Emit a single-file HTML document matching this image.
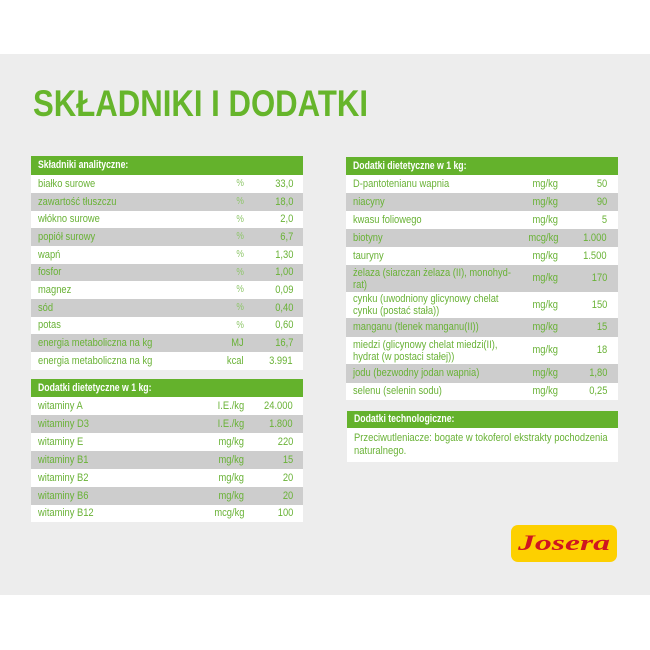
<!DOCTYPE html>
<html><head><meta charset="utf-8">
<style>
*{margin:0;padding:0;box-sizing:border-box}
html,body{width:650px;height:650px;background:#fff;overflow:hidden}
body{position:relative;font-family:"Liberation Sans",sans-serif}
#bg{position:absolute;left:0;top:54px;width:650px;height:541px;background:#ededed}
.tbl{position:absolute;width:272px}
.hd{background:#64b22c;color:#fff;font-weight:bold;font-size:11px;position:relative}
.hd span{position:absolute;left:7px;top:0;display:inline-block;transform:scaleX(.79);transform-origin:left center;white-space:nowrap}
.row{position:relative;font-size:11px;color:#69b236;white-space:nowrap}
.w{background:#fff}
.g{background:#cdcdcd}
.lb{position:absolute;left:7px;display:inline-block;transform:scaleX(.85);transform-origin:left center}
.un{position:absolute;display:inline-block;transform:scaleX(.85);transform-origin:right center;text-align:right}
.vl{position:absolute;display:inline-block;transform:scaleX(.85);transform-origin:right center;text-align:right}
.L .un{right:59px}.L .vl{right:10px}
.R .un{right:60px}.R .vl{right:11px}
.pc{color:#8ec66a;font-size:10px}
</style></head><body>
<div id="bg"></div>

<svg style="position:absolute;left:0;top:0" width="650" height="650">
<text x="33" y="116" textLength="335" lengthAdjust="spacingAndGlyphs" font-family="Liberation Sans, sans-serif" font-weight="bold" font-size="37.5" fill="#66b52b">SKŁADNIKI I DODATKI</text>
<rect x="511" y="525" width="106" height="37" rx="7" ry="7" fill="#fdd000"/>
<text x="518" y="550" textLength="92" lengthAdjust="spacingAndGlyphs" font-family="Liberation Serif, serif" font-style="italic" font-weight="bold" font-size="22" fill="#cf1620">Josera</text>
</svg>

<!-- Left table 1 -->
<div class="tbl L" style="left:31px;top:156px">
<div class="hd" style="height:19px;line-height:19px"><span>Składniki analityczne:</span></div>
<div class="row w" style="height:18px;line-height:18px"><span class="lb">białko surowe</span><span class="un pc">%</span><span class="vl">33,0</span></div>
<div class="row g" style="height:18px;line-height:18px"><span class="lb">zawartość tłuszczu</span><span class="un pc">%</span><span class="vl">18,0</span></div>
<div class="row w" style="height:17px;line-height:17px"><span class="lb">włókno surowe</span><span class="un pc">%</span><span class="vl">2,0</span></div>
<div class="row g" style="height:18px;line-height:18px"><span class="lb">popiół surowy</span><span class="un pc">%</span><span class="vl">6,7</span></div>
<div class="row w" style="height:18px;line-height:18px"><span class="lb">wapń</span><span class="un pc">%</span><span class="vl">1,30</span></div>
<div class="row g" style="height:17px;line-height:17px"><span class="lb">fosfor</span><span class="un pc">%</span><span class="vl">1,00</span></div>
<div class="row w" style="height:18px;line-height:18px"><span class="lb">magnez</span><span class="un pc">%</span><span class="vl">0,09</span></div>
<div class="row g" style="height:18px;line-height:18px"><span class="lb">sód</span><span class="un pc">%</span><span class="vl">0,40</span></div>
<div class="row w" style="height:17px;line-height:17px"><span class="lb">potas</span><span class="un pc">%</span><span class="vl">0,60</span></div>
<div class="row g" style="height:18px;line-height:18px"><span class="lb">energia metaboliczna na kg</span><span class="un">MJ</span><span class="vl">16,7</span></div>
<div class="row w" style="height:18px;line-height:18px"><span class="lb">energia metaboliczna na kg</span><span class="un">kcal</span><span class="vl">3.991</span></div>
</div>

<!-- Left table 2 -->
<div class="tbl L" style="left:31px;top:379px">
<div class="hd" style="height:18px;line-height:18px"><span>Dodatki dietetyczne w 1 kg:</span></div>
<div class="row w" style="height:18px;line-height:18px"><span class="lb">witaminy A</span><span class="un">I.E./kg</span><span class="vl">24.000</span></div>
<div class="row g" style="height:18px;line-height:18px"><span class="lb">witaminy D3</span><span class="un">I.E./kg</span><span class="vl">1.800</span></div>
<div class="row w" style="height:18px;line-height:18px"><span class="lb">witaminy E</span><span class="un">mg/kg</span><span class="vl">220</span></div>
<div class="row g" style="height:18px;line-height:18px"><span class="lb">witaminy B1</span><span class="un">mg/kg</span><span class="vl">15</span></div>
<div class="row w" style="height:18px;line-height:18px"><span class="lb">witaminy B2</span><span class="un">mg/kg</span><span class="vl">20</span></div>
<div class="row g" style="height:18px;line-height:18px"><span class="lb">witaminy B6</span><span class="un">mg/kg</span><span class="vl">20</span></div>
<div class="row w" style="height:17px;line-height:17px"><span class="lb">witaminy B12</span><span class="un">mcg/kg</span><span class="vl">100</span></div>
</div>

<!-- Right table 1 -->
<div class="tbl R" style="left:346px;top:157px">
<div class="hd" style="height:18px;line-height:18px"><span>Dodatki dietetyczne w 1 kg:</span></div>
<div class="row w" style="height:18px;line-height:18px"><span class="lb">D-pantotenianu wapnia</span><span class="un">mg/kg</span><span class="vl">50</span></div>
<div class="row g" style="height:18px;line-height:18px"><span class="lb">niacyny</span><span class="un">mg/kg</span><span class="vl">90</span></div>
<div class="row w" style="height:18px;line-height:18px"><span class="lb">kwasu foliowego</span><span class="un">mg/kg</span><span class="vl">5</span></div>
<div class="row g" style="height:18px;line-height:18px"><span class="lb">biotyny</span><span class="un">mcg/kg</span><span class="vl">1.000</span></div>
<div class="row w" style="height:18px;line-height:18px"><span class="lb">tauryny</span><span class="un">mg/kg</span><span class="vl">1.500</span></div>
<div class="row g" style="height:27px;line-height:27px"><span class="lb" style="line-height:12px;top:1.5px">żelaza (siarczan żelaza (II), monohyd-<br>rat)</span><span class="un">mg/kg</span><span class="vl">170</span></div>
<div class="row w" style="height:26px;line-height:26px"><span class="lb" style="line-height:12px;top:1px">cynku (uwodniony glicynowy chelat<br>cynku (postać stała))</span><span class="un">mg/kg</span><span class="vl">150</span></div>
<div class="row g" style="height:19px;line-height:19px"><span class="lb">manganu (tlenek manganu(II))</span><span class="un">mg/kg</span><span class="vl">15</span></div>
<div class="row w" style="height:27px;line-height:27px"><span class="lb" style="line-height:12px;top:1.5px">miedzi (glicynowy chelat miedzi(II),<br>hydrat (w postaci stałej))</span><span class="un">mg/kg</span><span class="vl">18</span></div>
<div class="row g" style="height:19px;line-height:19px"><span class="lb">jodu (bezwodny jodan wapnia)</span><span class="un">mg/kg</span><span class="vl">1,80</span></div>
<div class="row w" style="height:17px;line-height:17px"><span class="lb">selenu (selenin sodu)</span><span class="un">mg/kg</span><span class="vl">0,25</span></div>
</div>

<!-- Tech table -->
<div class="tbl R" style="left:347px;top:411px;width:271px">
<div class="hd" style="height:17px;line-height:17px"><span>Dodatki technologiczne:</span></div>
<div class="row w" style="height:34px"><span class="lb" style="line-height:13px;top:4px;transform:scaleX(.855)">Przeciwutleniacze: bogate w tokoferol ekstrakty pochodzenia<br>naturalnego.</span></div>
</div>

</body></html>
